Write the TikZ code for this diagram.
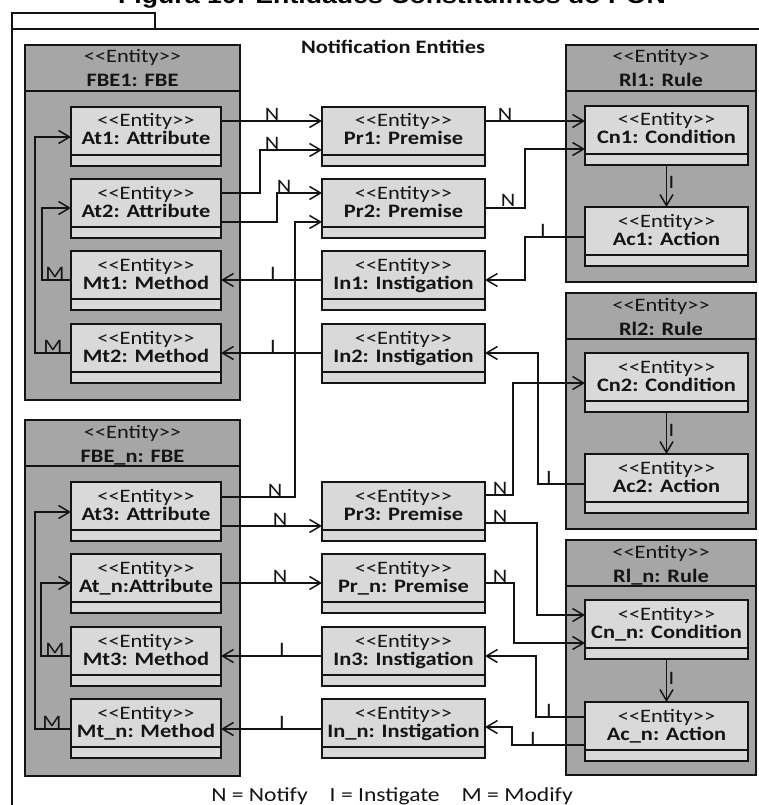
\documentclass[tikz,border=0pt]{standalone}
\usepackage{fontspec}
\setmainfont{Carlito}[FakeStretch=1.18]
\newfontfamily\titlefont{Liberation Sans}[FakeStretch=1.18]
\usetikzlibrary{arrows.meta}

\definecolor{grpfill}{HTML}{A6A6A6}
\definecolor{boxfill}{HTML}{D9D9D9}
\definecolor{ink}{HTML}{141414}

\newcommand{\stereo}{<\kern0pt<Entity>\kern0pt>}
\newcommand{\diagfont}{\fontsize{19}{19}\selectfont}

% entity box: name, x, y (top), width, label
\newcommand{\ent}[5]{%
  \node[ebox, minimum width=#4pt, anchor=north west] (#1) at (#2,#3) {};
  \draw[divline] ([yshift=11pt]#1.south west) -- ([yshift=11pt]#1.south east);
  \node[etxt, anchor=base] (#1-s) at ([yshift=-20pt]#1.north) {\stereo};
  \node[etxtb, anchor=base] (#1-l) at ([yshift=-38pt]#1.north) {#5};
}
% grouping entity: name, x, y (top), width, height, label
\newcommand{\grp}[6]{%
  \node[grpbox, minimum width=#4pt, minimum height=#5pt, anchor=north west] (#1) at (#2,#3) {};
  \draw[divline] ([yshift=-46pt]#1.north west) -- ([yshift=-46pt]#1.north east);
  \node[etxt, anchor=base] (#1-s) at ([yshift=-18pt]#1.north) {\stereo};
  \node[etxtb, anchor=base] (#1-l) at ([yshift=-42pt]#1.north) {#6};
}

\tikzset{
  ebox/.style={draw=ink, fill=boxfill, line width=2pt, rectangle, minimum height=59pt, inner sep=0pt, outer sep=0pt},
  grpbox/.style={draw=ink, fill=grpfill, line width=2pt, rectangle, inner sep=0pt, outer sep=0pt},
  divline/.style={draw=ink, line width=2pt},
  etxt/.style={inner sep=0pt, text=ink, font=\diagfont},
  etxtb/.style={inner sep=0pt, text=ink, font=\diagfont\bfseries},
  conn/.style={draw=ink, line width=1.5pt, -{Straight Barb[length=11pt,width=13pt,line width=1.5pt]}},
  lbl/.style={inner sep=0.5pt, text=ink, font=\diagfont},
}

\begin{document}
\begin{tikzpicture}[x=1pt, y=-1pt]
\useasboundingbox (0,0) rectangle (759,805);
\fill[white] (0,0) rectangle (759,805);

% title and package frame
\node[anchor=base, inner sep=0pt] (title) at (392,4) {\titlefont\fontsize{22.6}{24}\selectfont\bfseries Figura 10: Entidades Constituintes do PON};
\draw[draw=ink, line width=2pt] (12,29) rectangle (155,13);
\draw[draw=ink, line width=2pt] (12,830) -- (12,29) -- (790,29);
\node[etxtb, anchor=base] (pkg) at (393,54) {Notification Entities};

% fact base entities
\grp{FBEa}{25}{45}{215}{355}{FBE1: FBE}
\grp{FBEn}{25}{420}{215}{356}{FBE\_n: FBE}
\ent{At1}{71}{107}{150}{At1: Attribute}
\ent{At2}{71}{179}{150}{At2: Attribute}
\ent{Mt1}{71}{251}{150}{Mt1: Method}
\ent{Mt2}{71}{324}{150}{Mt2: Method}
\ent{At3}{71}{482}{150}{At3: Attribute}
\ent{Atn}{71}{554}{150}{At\_n:Attribute}
\ent{Mt3}{71}{627}{150}{Mt3: Method}
\ent{Mtn}{71}{699}{150}{Mt\_n: Method}

% premises and instigations
\ent{Pr1}{322}{107}{163}{Pr1: Premise}
\ent{Pr2}{322}{179}{163}{Pr2: Premise}
\ent{In1}{322}{251}{163}{In1: Instigation}
\ent{In2}{322}{324}{163}{In2: Instigation}
\ent{Pr3}{322}{482}{163}{Pr3: Premise}
\ent{Prn}{322}{554}{163}{Pr\_n: Premise}
\ent{In3}{322}{627}{163}{In3: Instigation}
\ent{Inn}{322}{699}{163}{In\_n: Instigation}

% rules
\grp{Rl1}{566}{45}{190}{237}{Rl1: Rule}
\grp{Rl2}{566}{293}{190}{236}{Rl2: Rule}
\grp{Rln}{566}{540}{190}{235}{Rl\_n: Rule}
\ent{Cn1}{585}{106}{163}{Cn1: Condition}
\ent{Ac1}{585}{207}{163}{Ac1: Action}
\ent{Cn2}{585}{353}{163}{Cn2: Condition}
\ent{Ac2}{585}{454}{163}{Ac2: Action}
\ent{Cnn}{585}{600}{163}{Cn\_n: Condition}
\ent{Acn}{585}{702}{163}{Ac\_n: Action}

% notify: attributes to premises
\draw[conn] ([yshift=-14pt]At1.north east) -- ([yshift=-14pt]Pr1.north west);
\draw[conn] ([yshift=-14pt]At2.north east) -- ++(39,0) |- ([yshift=-43pt]Pr1.north west);
\draw[conn] ([yshift=-43pt]At2.north east) -- ++(56,0) |- ([yshift=-14pt]Pr2.north west);
\draw[conn] ([yshift=-15pt]At3.north east) -- ++(74,0) |- ([yshift=-43pt]Pr2.north west);
\draw[conn] ([yshift=-44pt]At3.north east) -- ([yshift=-44pt]Pr3.north west);
\draw[conn] ([yshift=-29pt]Atn.north east) -- ([yshift=-29pt]Prn.north west);

% notify: premises to conditions
\draw[conn] ([yshift=-14pt]Pr1.north east) -- ([yshift=-15pt]Cn1.north west);
\draw[conn] ([yshift=-29pt]Pr2.north east) -- ++(40,0) |- ([yshift=-43pt]Cn1.north west);
\draw[conn] ([yshift=-13pt]Pr3.north east) -- ++(28,0) |- ([yshift=-30pt]Cn2.north west);
\draw[conn] ([yshift=-41pt]Pr3.north east) -- ++(52,0) |- ([yshift=-15pt]Cnn.north west);
\draw[conn] ([yshift=-29pt]Prn.north east) -- ++(29,0) |- ([yshift=-43pt]Cnn.north west);

% instigate: conditions to actions
\draw[conn] (Cn1.south) -- (Ac1.north);
\draw[conn] (Cn2.south) -- (Ac2.north);
\draw[conn] (Cnn.south) -- (Acn.north);

% instigate: actions to instigations
\draw[conn] ([yshift=-30pt]Ac1.north west) -- ++(-60,0) |- ([yshift=-29pt]In1.north east);
\draw[conn] ([yshift=-30pt]Ac2.north west) -- ++(-47,0) |- ([yshift=-29pt]In2.north east);
\draw[conn] ([yshift=-15pt]Acn.north west) -- ++(-49,0) |- ([yshift=-29pt]In3.north east);
\draw[conn] ([yshift=-43pt]Acn.north west) -- ++(-73,0) |- ([yshift=-28pt]Inn.north east);

% instigate: instigations to methods
\draw[conn] ([yshift=-29pt]In1.north west) -- ([yshift=-29pt]Mt1.north east);
\draw[conn] ([yshift=-29pt]In2.north west) -- ([yshift=-29pt]Mt2.north east);
\draw[conn] ([yshift=-29pt]In3.north west) -- ([yshift=-29pt]Mt3.north east);
\draw[conn] ([yshift=-30pt]Inn.north west) -- ([yshift=-30pt]Mtn.north east);

% modify: methods to attributes
\draw[conn] ([yshift=-29pt]Mt1.north west) -- ++(-29,0) |- ([yshift=-29pt]At2.north west);
\draw[conn] ([yshift=-29pt]Mt2.north west) -- ++(-36,0) |- ([yshift=-30pt]At1.north west);
\draw[conn] ([yshift=-29pt]Mt3.north west) -- ++(-30,0) |- ([yshift=-29pt]Atn.north west);
\draw[conn] ([yshift=-30pt]Mtn.north west) -- ++(-36,0) |- ([yshift=-30pt]At3.north west);

% connector labels
\node[lbl, anchor=south] (n1) at (272,121) {N};
\node[lbl, anchor=south] (n2) at (272,150) {N};
\node[lbl, anchor=south] (n3) at (284,193) {N};
\node[lbl, anchor=south] (n4) at (275,497) {N};
\node[lbl, anchor=south] (n5) at (280,526) {N};
\node[lbl, anchor=south] (n6) at (280,583) {N};
\node[lbl, anchor=south] (n7) at (505,121) {N};
\node[lbl, anchor=south] (n8) at (508,207) {N};
\node[lbl, anchor=south] (n9) at (500,495) {N};
\node[lbl, anchor=south] (n10) at (500,523) {N};
\node[lbl, anchor=south] (n11) at (500,583) {N};

\node[lbl, anchor=south] (i1) at (543,237) {I};
\node[lbl, anchor=south] (i2) at (549,484) {I};
\node[lbl, anchor=south] (i3) at (549,717) {I};
\node[lbl, anchor=south] (i4) at (533,745) {I};
\node[lbl, anchor=south] (i5) at (273,280) {I};
\node[lbl, anchor=south] (i6) at (273,353) {I};
\node[lbl, anchor=south] (i7) at (282,656) {I};
\node[lbl, anchor=south] (i8) at (282,729) {I};
\node[lbl, anchor=west] (i9) at (668,182) {I};
\node[lbl, anchor=west] (i10) at (668,430) {I};
\node[lbl, anchor=west] (i11) at (668,678) {I};

\node[lbl, anchor=south] (m1) at (55,280) {M};
\node[lbl, anchor=south] (m2) at (53,353) {M};
\node[lbl, anchor=south] (m3) at (55,656) {M};
\node[lbl, anchor=south] (m4) at (52,729) {M};

% legend
\node[etxt, anchor=base] (legend) at (392,801) {\fontsize{20}{20}\selectfont N = Notify\hspace{22pt}I = Instigate\hspace{22pt}M = Modify};
\end{tikzpicture}
\end{document}
